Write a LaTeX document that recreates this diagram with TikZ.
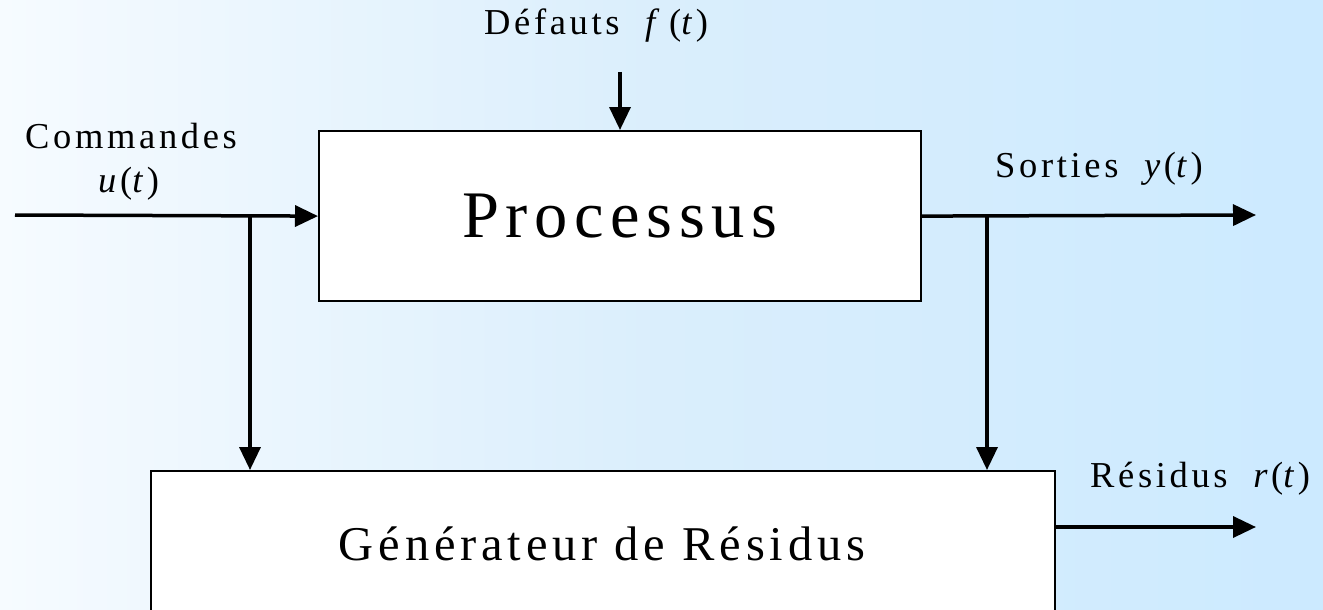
\documentclass[tikz,border=0pt]{standalone}
\usepackage{fontspec}
\setmainfont{Liberation Serif}[LetterSpace=10]
\usetikzlibrary{arrows.meta,calc}

\definecolor{bgleft}{RGB}{246,251,255}
\definecolor{bgmid}{RGB}{218,238,252}
\definecolor{bgright}{RGB}{204,234,255}

\tikzset{
  wire/.style={line width=3.5pt},
  sig/.style={wire, -{Triangle[length=23pt,width=21pt]}},
  block/.style={draw, line width=2.2pt, fill=white, inner sep=0pt},
  lbl/.style={inner sep=0pt, anchor=base west, font=\fontsize{36.5}{42}\selectfont},
}

\begin{document}
\begin{tikzpicture}[x=1pt,y=1pt]
  % canvas and background shading
  \clip (0,0) rectangle (1323,-610);
  \shade[left color=bgleft, right color=bgright, middle color=bgmid] (0,0) rectangle (1323,-610);

  % blocks
  \node[block, minimum width=602pt, minimum height=170pt, anchor=north west,
        font=\fontsize{66.5}{72}\selectfont] (proc) at (318,-130) {Processus};
  \node[block, minimum width=904pt, minimum height=240pt, anchor=north west] (gen) at (150,-470) {};
  \node[inner sep=0pt, anchor=base, font=\fontsize{48.5}{54}\selectfont] (gentext) at (602,-560) {Générateur de Résidus};

  % signal labels
  \node[lbl] (cmd)  at (25,-148)   {Commandes};
  \node[lbl] (cmdu) at (98,-192)   {\textit{u}(\textit{t})};
  \node[lbl] (def)  at (484,-35)   {Défauts~~\textit{f}\,(\textit{t})};
  \node[lbl] (sor)  at (995,-177)  {Sorties~~\textit{y}(\textit{t})};
  \node[lbl] (res)  at (1090,-487) {Résidus~~\textit{r}(\textit{t})};

  % signal end points
  \coordinate (uin)  at (15,-215);
  \coordinate (ub)   at (250,-215);
  \coordinate (fin)  at (620,-72);
  \coordinate (yb)   at (987,-215);
  \coordinate (yout) at (1256,-215);
  \coordinate (rin)  at ($(gen.north east)+(0,-57)$);
  \coordinate (rout) at (1256,-527);

  % connectors
  \draw[sig] (uin) -- (proc.west);
  \draw[sig] (ub) -- (ub |- gen.north);
  \draw[sig] (fin) -- (fin |- proc.north);
  \draw[sig] (proc.east) -- (yout);
  \draw[sig] (yb) -- (yb |- gen.north);
  \draw[sig] (rin) -- (rout);
\end{tikzpicture}
\end{document}
